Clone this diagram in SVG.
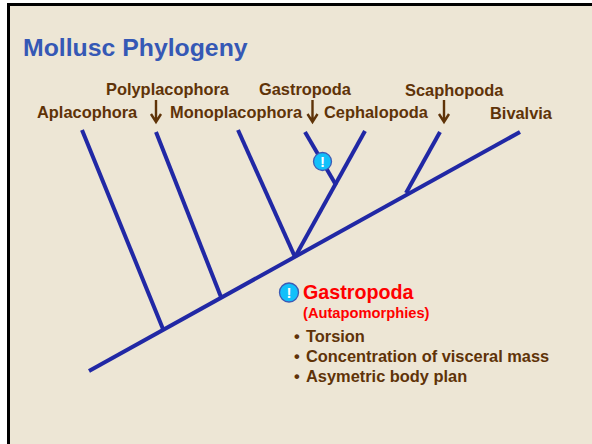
<svg xmlns="http://www.w3.org/2000/svg" width="592" height="444" viewBox="0 0 592 444">
<style>
text{font-family:"Liberation Sans",Arial,sans-serif;font-weight:bold}
.l{font-size:16.4px;fill:#5f3308}
.b{font-size:16.4px;fill:#5f3308}
.e{stroke:#2128a5;stroke-width:4;fill:none}
.a{stroke:#5f3308;stroke-width:2.4;fill:none}
.c{fill:#12c0fa;stroke:#3d5ab5;stroke-width:1.3}
.x{font-size:15px;fill:#fff;text-anchor:middle}
</style>
<rect width="592" height="444" fill="#fff"/>
<rect x="8.500" y="4.500" width="590" height="445" fill="#ede6d5" stroke="#000" stroke-width="3"/>
<text id="title" x="23" y="56" font-size="24.800" fill="#3558b5">Mollusc Phylogeny</text>
<g id="connectors">
<path class="e" d="M89 371L520 132"/>
<path class="e" d="M82 130L163 329"/>
<path class="e" d="M156 132L221 297"/>
<path class="e" d="M238 130L295 257"/>
<path class="e" d="M295 257L365 131"/>
<path class="e" d="M305 132L336 185"/>
<path class="e" d="M406 193L440 132"/>
<path class="a" d="M156 100V122M151 114L156 122L161 114"/>
<path class="a" d="M312.500 100V122M307.500 114L312.500 122L317.500 114"/>
<path class="a" d="M444 100V122M439 114L444 122L449 114"/>
</g>
<g id="aplacophora"><text class="l" x="37" y="118">Aplacophora</text></g>
<g id="polyplacophora"><text class="l" x="106" y="95">Polyplacophora</text></g>
<g id="monoplacophora"><text class="l" x="170" y="118">Monoplacophora</text></g>
<g id="gastropoda"><text class="l" x="259" y="95">Gastropoda</text></g>
<g id="cephalopoda"><text class="l" x="324" y="118">Cephalopoda</text></g>
<g id="scaphopoda"><text class="l" x="405" y="96">Scaphopoda</text></g>
<g id="bivalvia"><text class="l" x="490" y="119">Bivalvia</text></g>
<g id="marker-tree"><circle class="c" cx="322.500" cy="161.500" r="9"/><text class="x" x="322.500" y="166.500">!</text></g>
<g id="marker-legend"><circle class="c" cx="289" cy="292.500" r="9.500"/><text class="x" x="289" y="297.500">!</text></g>
<g id="legend">
<text x="303" y="299" font-size="19.700" fill="#f00">Gastropoda</text>
<text x="303" y="318" font-size="14.700" fill="#f00">(Autapomorphies)</text>
<text class="b" x="294" y="342">•</text><text class="b" x="306" y="342">Torsion</text>
<text class="b" x="294" y="362">•</text><text class="b" x="306" y="362">Concentration of visceral mass</text>
<text class="b" x="294" y="382">•</text><text class="b" x="306" y="382">Asymetric body plan</text>
</g>
</svg>
